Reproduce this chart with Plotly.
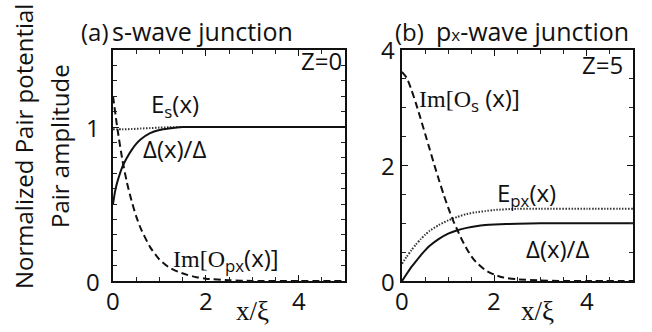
import plotly.graph_objects as go

W, H = 652, 332
SANS = "Open Sans"
SERIF = "Liberation Serif"

# ---------------- data: (a) s-wave junction, Z=0 ----------------
a_delta_x = [0, 0.05, 0.1, 0.2, 0.3, 0.4, 0.5, 0.6, 0.8, 1.0, 1.2, 1.5, 2, 3, 4, 5]
a_delta_y = [0.50, 0.59, 0.65, 0.74, 0.80, 0.85, 0.89, 0.92, 0.96, 0.98, 0.99, 1.0, 1.0, 1.0, 1.0, 1.0]

a_es_x = [0, 0.2, 0.4, 0.6, 0.8, 1.0, 1.2, 1.5, 2, 3, 4, 5]
a_es_y = [0.985, 0.985, 0.987, 0.99, 0.993, 0.996, 0.998, 1.0, 1.0, 1.0, 1.0, 1.0]

a_im_x = [0, 0.1, 0.2, 0.3, 0.4, 0.5, 0.6, 0.8, 1.0, 1.2, 1.4, 1.6, 1.8, 2.0, 2.5, 3, 4, 5]
a_im_y = [1.20, 0.98, 0.79, 0.64, 0.52, 0.42, 0.34, 0.22, 0.14, 0.09, 0.06, 0.04, 0.025, 0.015, 0.005, 0, 0, 0]

# ---------------- data: (b) px-wave junction, Z=5 ----------------
b_delta_x = [0, 0.1, 0.2, 0.3, 0.4, 0.5, 0.6, 0.8, 1.0, 1.2, 1.4, 1.6, 1.8, 2.0, 2.5, 3, 4, 5]
b_delta_y = [0.0, 0.12, 0.24, 0.34, 0.44, 0.53, 0.61, 0.73, 0.82, 0.88, 0.92, 0.95, 0.97, 0.98, 0.99, 1.0, 1.0, 1.0]

b_epx_x = [0, 0.1, 0.2, 0.3, 0.4, 0.5, 0.6, 0.8, 1.0, 1.2, 1.4, 1.6, 1.8, 2.0, 2.5, 3, 4, 5]
b_epx_y = [0.30, 0.42, 0.53, 0.63, 0.72, 0.80, 0.87, 0.97, 1.05, 1.11, 1.16, 1.19, 1.21, 1.23, 1.25, 1.25, 1.25, 1.25]

b_im_x = [0, 0.1, 0.2, 0.3, 0.4, 0.5, 0.6, 0.7, 0.8, 0.9, 1.0, 1.1, 1.2, 1.3, 1.4, 1.5, 1.6, 1.8, 2.0, 2.2, 2.5, 3.0, 3.5, 4.0, 5.0]
b_im_y = [3.62, 3.52, 3.32, 3.08, 2.82, 2.55, 2.28, 2.01, 1.75, 1.50, 1.27, 1.06, 0.88, 0.71, 0.56, 0.43, 0.33, 0.19, 0.11, 0.06, 0.03, 0.01, 0, 0, 0]

# axis ticks and their labels
x_ticks = [0, 2, 4]
x_tick_text = ["0", "2", "4"]
a_y_ticks = [0, 1]
a_y_tick_text = ["0", "1"]
b_y_ticks = [0, 2, 4]
b_y_tick_text = ["0", "2", "4"]

SOLID = dict(color="#111", width=2, dash="solid", shape="spline", smoothing=0.6)
DASH = dict(color="#111", width=2, dash="7px,4px", shape="spline", smoothing=0.6)
DOT = dict(color="#333", width=2, dash="1.5px,1.5px", shape="spline", smoothing=0.6)


def px(x):
    return x / W


def py(y):
    return 1 - y / H


fig = go.Figure()
for xs, ys, ln, ax in [
    (a_es_x, a_es_y, DOT, ("x", "y")),
    (a_delta_x, a_delta_y, SOLID, ("x", "y")),
    (a_im_x, a_im_y, DASH, ("x", "y")),
    (b_epx_x, b_epx_y, DOT, ("x2", "y2")),
    (b_delta_x, b_delta_y, SOLID, ("x2", "y2")),
    (b_im_x, b_im_y, DASH, ("x2", "y2")),
]:
    fig.add_trace(go.Scatter(x=xs, y=ys, mode="lines", line=ln,
                             xaxis=ax[0], yaxis=ax[1], showlegend=False,
                             hoverinfo="skip", cliponaxis=True))

common = dict(showline=True, linecolor="#111", linewidth=1.6, mirror="allticks",
              ticks="inside", ticklen=6, tickwidth=1.3, tickcolor="#111",
              showgrid=False, zeroline=False, showticklabels=False)
minor_common = dict(ticks="inside", ticklen=4, tickwidth=1.1, tickcolor="#222")

yd = [py(281), py(50)]
fig.update_layout(
    width=W, height=H, margin=dict(l=0, r=0, t=0, b=0),
    paper_bgcolor="white", plot_bgcolor="white",
    xaxis=dict(domain=[px(113), px(345)], range=[0, 5], tickvals=x_ticks,
               minor=dict(dtick=0.5, **minor_common), anchor="y", **common),
    yaxis=dict(domain=yd, range=[0, 1.5], tickvals=a_y_ticks,
               minor=dict(dtick=0.1, **minor_common), anchor="x", **common),
    xaxis2=dict(domain=[px(402), px(633)], range=[0, 5], tickvals=x_ticks,
                minor=dict(dtick=0.5, **minor_common), anchor="y2", **common),
    yaxis2=dict(domain=yd, range=[0, 4], tickvals=b_y_ticks,
                minor=dict(dtick=0.5, **minor_common), anchor="x2", **common),
)


def note(text, x, y, xref="paper", yref="paper", size=24, family=SANS,
         xanchor="center", yanchor="middle", angle=0):
    fig.add_annotation(text=text, x=x, y=y, xref=xref, yref=yref,
                       xanchor=xanchor, yanchor=yanchor, textangle=angle,
                       showarrow=False, font=dict(family=family, size=size, color="#111"))


# tick labels
for xr in ("x", "x2"):
    for v, t in zip(x_ticks, x_tick_text):
        note(t, v, py(300), xref=xr)
for v, t in zip(a_y_ticks, a_y_tick_text):
    note(t, px(102), v, yref="y", xanchor="right")
for v, t in zip(b_y_ticks, b_y_tick_text):
    note(t, px(397), v, yref="y2", xanchor="right")

# axis titles
note("Normalized Pair potential", px(24), py(147), angle=-90)
note("Pair amplitude", px(60), py(146), angle=-90)
note("x/ξ", px(252), py(311), family=SERIF, size=27)
note("x/ξ", px(537), py(311), family=SERIF, size=27)

# panel headings
note("(a)", px(79), py(31), xanchor="left")
note("s-wave junction", px(110), py(31), xanchor="left", size=25)
note("(b)", px(393), py(31), xanchor="left")
note("p<span style='font-size:17px'>x</span>-wave junction", px(434), py(31), xanchor="left", size=25)

# curve labels, panel (a)
note("Z=0", 4.97, 1.43, "x", "y", xanchor="right")
note("E<sub>s</sub>(x)", 1.33, 1.14, "x", "y")
note("Δ(x)/Δ", 1.33, 0.86, "x", "y")
note(f"<span style='font-family:{SERIF}'>Im[O</span><sub>px</sub>(x)]", 2.43, 0.14, "x", "y")

# curve labels, panel (b)
note("Z=5", 4.83, 3.75, "x2", "y2", xanchor="right")
note(f"<span style='font-family:{SERIF}'>Im[O</span><sub>s</sub> (x)]", 1.47, 3.16, "x2", "y2")
note("E<sub>px</sub>(x)", 2.69, 1.5, "x2", "y2")
note("Δ(x)/Δ", 3.36, 0.57, "x2", "y2")

fig.write_html("out.html")
